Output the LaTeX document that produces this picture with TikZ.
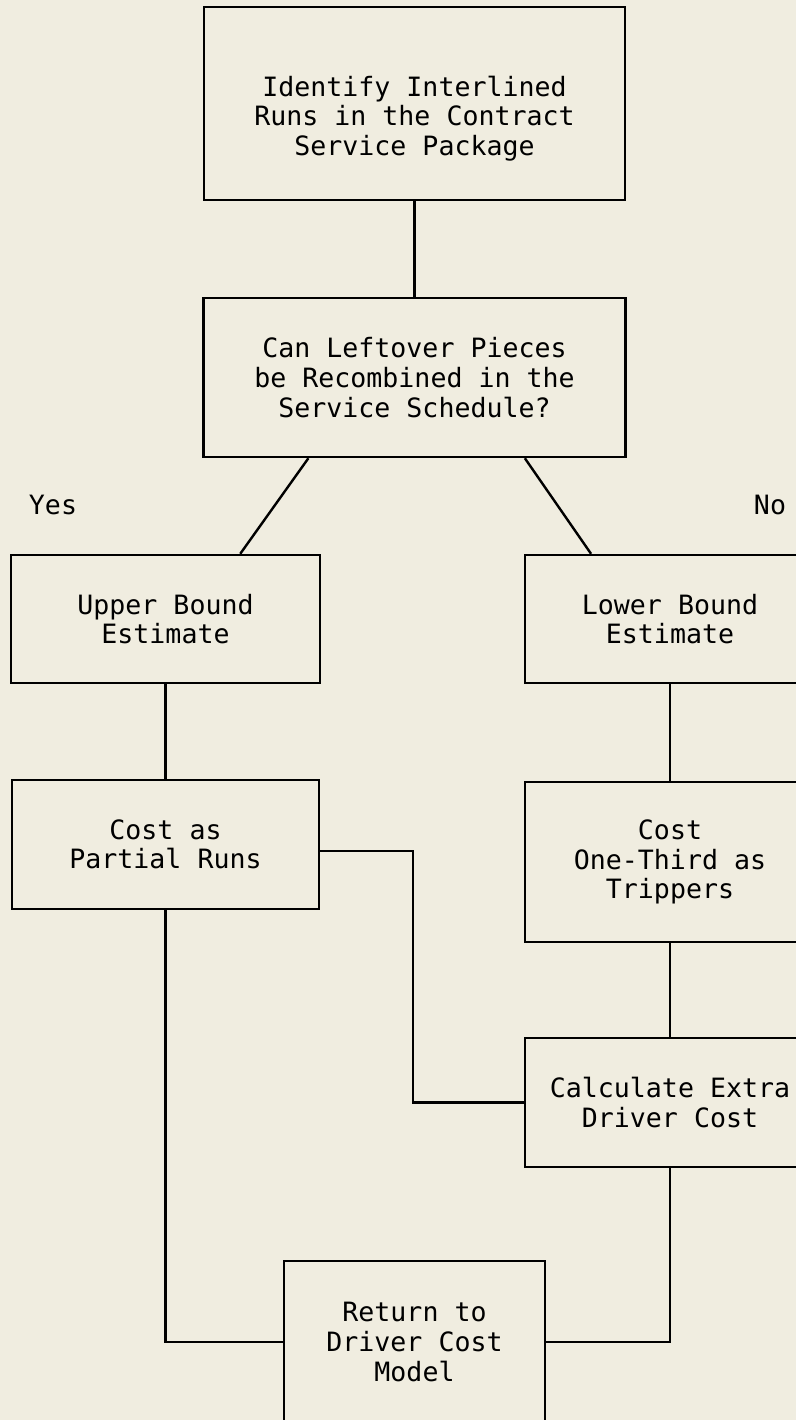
\documentclass[tikz,border=0pt]{standalone}
\usepackage{fontspec}
\setmonofont{DejaVu Sans Mono}
\usetikzlibrary{calc}
\definecolor{paper}{RGB}{240,237,224}

\begin{document}
\begin{tikzpicture}[x=0.5pt, y=-0.5pt,
    blk/.style={draw, line width=1.2pt, align=center, inner sep=0pt,
      font=\ttfamily\fontsize{13.3}{14.8}\selectfont},
    lbl/.style={font=\ttfamily\fontsize{13.3}{14.8}\selectfont},
    link/.style={line width=1.2pt}]
  \fill[paper] (0,0) rectangle (796,1420);
  \clip (0,0) rectangle (796,1420);

  % boxes
  \node[blk, minimum width=210.5pt, minimum height=96.5pt] (ident) at (414.5,103.5)
    {\rule{0pt}{25pt}Identify Interlined\\Runs in the Contract\\Service Package};
  \node[blk, minimum width=211pt, minimum height=79.5pt] (leftover) at (414.5,377.5)
    {Can Leftover Pieces\\be Recombined in the\\Service Schedule?};
  \node[blk, minimum width=154.5pt, minimum height=64pt] (upper) at (165.5,619)
    {Upper Bound\\Estimate};
  \node[blk, minimum width=145pt, minimum height=64pt] (lower) at (670,619)
    {Lower Bound\\Estimate};
  \node[blk, minimum width=153.5pt, minimum height=64.5pt] (partial) at (165.5,844.5)
    {Cost as\\Partial Runs};
  \node[blk, minimum width=145pt, minimum height=80pt] (trippers) at (670,862)
    {Cost\\One-Third as\\Trippers};
  \node[blk, minimum width=145pt, minimum height=64.5pt] (calc) at (670,1102.5)
    {Calculate Extra\\Driver Cost};
  \node[blk, minimum width=130.5pt, minimum height=81pt] (ret) at (414.5,1342)
    {Return to\\Driver Cost\\Model};

  % branch labels
  \node[lbl] (yes) at (53,505) {Yes};
  \node[lbl] (no) at (770,505) {No};

  % connectors
  \draw[link] (ident.south) -- (leftover.north);
  \draw[link] ($(leftover.south west)!.25!(leftover.south east)$)
    -- ($(upper.north west)!.74!(upper.north east)$);
  \draw[link] ($(leftover.south west)!.76!(leftover.south east)$)
    -- ($(lower.north west)!.23!(lower.north east)$);
  \draw[link] (upper.south) -- (partial.north);
  \draw[link] (lower.south) -- (trippers.north);
  \draw[link] (trippers.south) -- (calc.north);
  \draw[link] ([yshift=-3.25pt]partial.east) -- ++(93,0) |- (calc.west);
  \draw[link] (partial.south) |- (ret.west);
  \draw[link] (calc.south) |- (ret.east);
\end{tikzpicture}
\end{document}
